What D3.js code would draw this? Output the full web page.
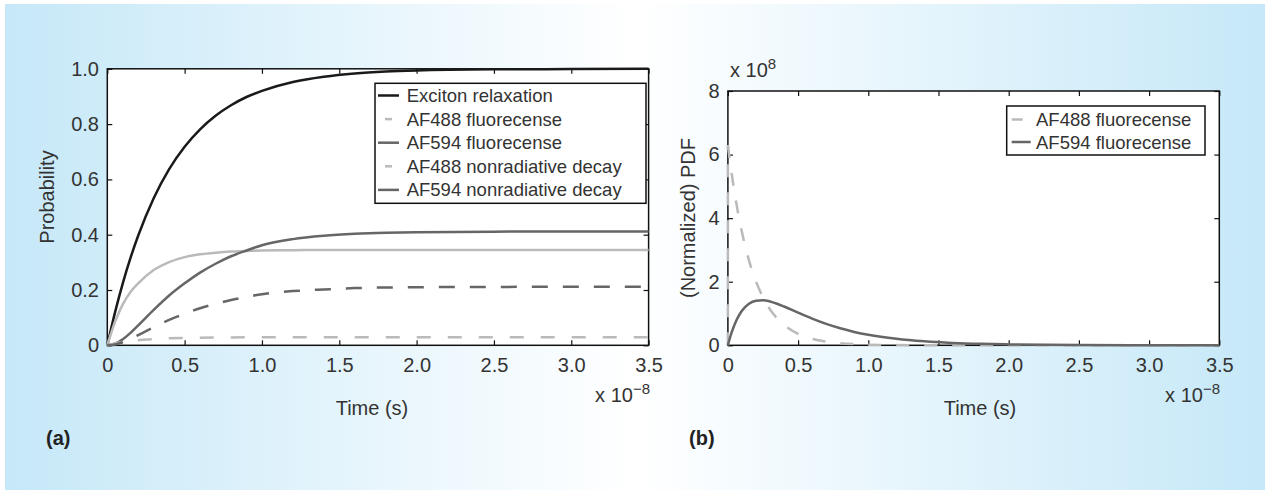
<!DOCTYPE html>
<html>
<head>
<meta charset="utf-8">
<script src="https://cdn.jsdelivr.net/npm/d3@7"></script>
<style>
  body { margin: 0; background: #fff; }
  svg { display: block; }
</style>
</head>
<body>
<div id="chart"></div>
<script>
// time axis is in units of 1e-8 s
const timeA = [0, 0.05, 0.1, 0.15, 0.2, 0.3, 0.4, 0.5, 0.6, 0.7, 0.8, 0.9, 1.0, 1.2, 1.4, 1.6, 1.8, 2.0, 2.5, 3.0, 3.5];
const excitonRelax = [0, 0.119, 0.224, 0.316, 0.397, 0.532, 0.637, 0.718, 0.781, 0.830, 0.868, 0.898, 0.920, 0.952, 0.971, 0.983, 0.990, 0.994, 0.998, 0.999, 1.0];
const af488Fluor = [0, 0.085, 0.148, 0.193, 0.224, 0.272, 0.301, 0.319, 0.329, 0.335, 0.339, 0.341, 0.343, 0.344, 0.345, 0.345, 0.345, 0.345, 0.345, 0.345, 0.345];
const af594Fluor = [0, 0.006, 0.022, 0.045, 0.072, 0.128, 0.180, 0.224, 0.263, 0.295, 0.322, 0.343, 0.362, 0.384, 0.396, 0.403, 0.407, 0.409, 0.411, 0.412, 0.412];
const af488Nonrad = [0, 0.007, 0.0125, 0.0163, 0.0185, 0.0227, 0.0252, 0.0268, 0.0277, 0.0282, 0.0285, 0.0287, 0.0288, 0.0289, 0.029, 0.029, 0.029, 0.029, 0.029, 0.029, 0.029];
const af594Nonrad = [0, 0.003, 0.011, 0.023, 0.037, 0.065, 0.092, 0.114, 0.134, 0.150, 0.164, 0.175, 0.185, 0.196, 0.202, 0.207, 0.209, 0.210, 0.211, 0.212, 0.212];

const timeB = [0, 0.025, 0.05, 0.075, 0.1, 0.15, 0.2, 0.25, 0.3, 0.35, 0.4, 0.5, 0.6, 0.7, 0.8, 0.9, 1.0, 1.2, 1.4, 1.6, 1.8, 2.0, 2.5, 3.0, 3.5];
// PDF values in units of 1e8
const af488Pdf = [6.3, 5.46, 4.73, 4.10, 3.56, 2.67, 2.01, 1.51, 1.13, 0.85, 0.64, 0.36, 0.20, 0.115, 0.065, 0.037, 0.02, 0.006, 0.002, 0, 0, 0, 0, 0, 0];
const af594Pdf = [0, 0.38, 0.68, 0.91, 1.085, 1.306, 1.402, 1.417, 1.379, 1.308, 1.220, 1.026, 0.838, 0.672, 0.534, 0.421, 0.330, 0.203, 0.124, 0.075, 0.045, 0.028, 0.008, 0.002, 0.001];

const timeTicks = [0, 0.5, 1.0, 1.5, 2.0, 2.5, 3.0, 3.5];
const timeTickLabels = ['0', '0.5', '1.0', '1.5', '2.0', '2.5', '3.0', '3.5'];
const probTicks = [0, 0.2, 0.4, 0.6, 0.8, 1.0];
const probTickLabels = ['0', '0.2', '0.4', '0.6', '0.8', '1.0'];
const pdfTicks = [0, 2, 4, 6, 8];
const pdfTickLabels = ['0', '2', '4', '6', '8'];

const namesA = ['Exciton relaxation', 'AF488 fluorecense', 'AF594 fluorecense', 'AF488 nonradiative decay', 'AF594 nonradiative decay'];
const namesB = ['AF488 fluorecense', 'AF594 fluorecense'];

const width = 1267;
const height = 490;
const font = "'Liberation Sans', Arial, Helvetica, sans-serif";
const textColor = '#333';

const black = '#1a1a1a';
const light = '#bababa';
const dark = '#666666';

const svg = d3.select('#chart')
  .append('svg')
  .attr('width', width)
  .attr('height', height);

// background gradient
const grad = svg.append('defs')
  .append('linearGradient')
  .attr('id', 'bg')
  .attr('x1', '0%').attr('x2', '100%')
  .attr('y1', '0%').attr('y2', '0%');
grad.append('stop').attr('offset', '0%').attr('stop-color', '#c6e8f8');
grad.append('stop').attr('offset', '50%').attr('stop-color', '#ffffff');
grad.append('stop').attr('offset', '100%').attr('stop-color', '#c6e8f8');

svg.append('rect')
  .attr('x', 5).attr('y', 4)
  .attr('width', 1260).attr('height', 486)
  .attr('fill', 'url(#bg)');

const xA = d3.scaleLinear().domain([0, 3.5]).range([107.3, 648.6]);
const yA = d3.scaleLinear().domain([0, 1]).range([345.3, 68.8]);
const xB = d3.scaleLinear().domain([0, 3.5]).range([727.9, 1219.3]);
const yB = d3.scaleLinear().domain([0, 8]).range([345.3, 91]);

function styleAxis(sel) {
  sel.select('.domain').remove();
  sel.selectAll('line').attr('stroke', '#111').attr('stroke-width', 1.2);
  sel.selectAll('text')
    .attr('fill', textColor)
    .style('font-family', font)
    .style('font-size', '20px');
}

function drawAxes(x, y, yTicks, yLabels) {
  const [x0, x1] = x.range();
  const [y0, y1] = y.range();

  svg.append('rect')
    .attr('x', x0).attr('y', y1)
    .attr('width', x1 - x0).attr('height', y0 - y1)
    .attr('fill', '#fff');

  svg.append('g')
    .attr('transform', `translate(0,${y0})`)
    .call(d3.axisBottom(x).tickValues(timeTicks)
      .tickFormat((d, i) => timeTickLabels[i])
      .tickSizeInner(-5).tickSizeOuter(0).tickPadding(12.5))
    .call(styleAxis);

  svg.append('g')
    .attr('transform', `translate(0,${y1})`)
    .call(d3.axisTop(x).tickValues(timeTicks).tickFormat('')
      .tickSizeInner(-5).tickSizeOuter(0))
    .call(styleAxis);

  svg.append('g')
    .attr('transform', `translate(${x0},0)`)
    .call(d3.axisLeft(y).tickValues(yTicks)
      .tickFormat((d, i) => yLabels[i])
      .tickSizeInner(-5).tickSizeOuter(0).tickPadding(8.3))
    .call(styleAxis);

  svg.append('g')
    .attr('transform', `translate(${x1},0)`)
    .call(d3.axisRight(y).tickValues(yTicks).tickFormat('')
      .tickSizeInner(-5).tickSizeOuter(0))
    .call(styleAxis);

  svg.append('rect')
    .attr('x', x0).attr('y', y1)
    .attr('width', x1 - x0).attr('height', y0 - y1)
    .attr('fill', 'none')
    .attr('stroke', '#111')
    .attr('stroke-width', 1.5);
}

function drawSeries(x, y, time, values, color, dash) {
  const line = d3.line()
    .x((d, i) => x(time[i]))
    .y(d => y(d))
    .curve(d3.curveMonotoneX);
  svg.append('path')
    .attr('d', line(values))
    .attr('fill', 'none')
    .attr('stroke', color)
    .attr('stroke-width', 2.5)
    .attr('stroke-dasharray', dash || null);
}

function drawLegend(box, names, styles, rowStart, rowStep, textX) {
  svg.append('rect')
    .attr('x', box.x).attr('y', box.y)
    .attr('width', box.w).attr('height', box.h)
    .attr('fill', '#fff')
    .attr('stroke', '#111')
    .attr('stroke-width', 1.5);
  names.forEach((name, i) => {
    const cy = rowStart + i * rowStep;
    const s = styles[i];
    svg.append('line')
      .attr('x1', s.x1).attr('x2', s.x2)
      .attr('y1', cy).attr('y2', cy)
      .attr('stroke', s.color)
      .attr('stroke-width', 2.5);
    svg.append('text')
      .attr('x', textX).attr('y', cy + 6.5)
      .attr('fill', textColor)
      .style('font-family', font)
      .style('font-size', '18.5px')
      .text(name);
  });
}

function scaleNote(xPos, yPos, anchor, exponent) {
  const t = svg.append('text')
    .attr('x', xPos).attr('y', yPos)
    .attr('text-anchor', anchor)
    .attr('fill', textColor)
    .style('font-family', font)
    .style('font-size', '20px');
  t.append('tspan').text('x 10');
  t.append('tspan').attr('dy', -8).style('font-size', '15px').text(exponent);
}

function label(text, xPos, yPos, opts) {
  const t = svg.append('text')
    .attr('x', xPos).attr('y', yPos)
    .attr('text-anchor', opts.anchor || 'start')
    .attr('fill', opts.color || textColor)
    .style('font-family', font)
    .style('font-size', opts.size || '20px')
    .style('font-weight', opts.weight || 'normal')
    .text(text);
  if (opts.rotate) t.attr('transform', `rotate(-90,${xPos},${yPos})`);
}

// panel (a)
drawAxes(xA, yA, probTicks, probTickLabels);
drawSeries(xA, yA, timeA, excitonRelax, black);
drawSeries(xA, yA, timeA, af488Fluor, light);
drawSeries(xA, yA, timeA, af594Fluor, dark);
drawSeries(xA, yA, timeA, af488Nonrad, light, '14,17');
drawSeries(xA, yA, timeA, af594Nonrad, dark, '16,15');
drawLegend({ x: 375, y: 83.3, w: 271, h: 120 }, namesA, [
  { color: black, x1: 378, x2: 399 },
  { color: light, x1: 385, x2: 392 },
  { color: dark, x1: 378, x2: 399 },
  { color: light, x1: 385, x2: 392 },
  { color: dark, x1: 378, x2: 399 }
], 95.5, 23.6, 406.7);

label('Probability', 54, 197, { anchor: 'middle', rotate: true });
label('Time (s)', 372, 415, { anchor: 'middle' });
scaleNote(650, 402, 'end', '\u22128');
label('(a)', 46, 445, { weight: 'bold', color: '#222' });

// panel (b)
drawAxes(xB, yB, pdfTicks, pdfTickLabels);
// AF488 pdf starts with a vertical jump at t = 0
svg.append('line')
  .attr('x1', xB(0)).attr('x2', xB(0))
  .attr('y1', yB(0)).attr('y2', yB(af488Pdf[0]))
  .attr('stroke', light)
  .attr('stroke-width', 2.5)
  .attr('stroke-dasharray', '13,15');
drawSeries(xB, yB, timeB, af488Pdf, light, '13,15');
drawSeries(xB, yB, timeB, af594Pdf, dark);
drawLegend({ x: 1006.7, y: 106, w: 198.3, h: 49 }, namesB, [
  { color: light, x1: 1011.7, x2: 1022.7 },
  { color: dark, x1: 1011.7, x2: 1030.7 }
], 119.5, 22.5, 1036);

label('(Normalized) PDF', 695, 218, { anchor: 'middle', rotate: true });
label('Time (s)', 980, 415, { anchor: 'middle' });
scaleNote(1220, 402, 'end', '\u22128');
scaleNote(730, 77, 'start', '8');
label('(b)', 689, 445, { weight: 'bold', color: '#222' });
</script>
</body>
</html>
